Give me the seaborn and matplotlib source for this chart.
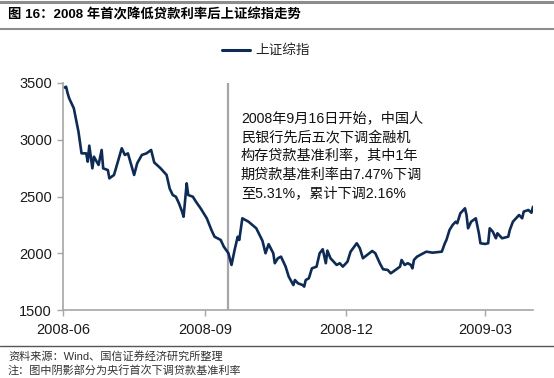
import matplotlib
matplotlib.use("Agg")
import matplotlib.pyplot as plt
import matplotlib.dates as mdates
from matplotlib.lines import Line2D
import seaborn as sns
import pandas as pd

dates = [
    "2008-06-02", "2008-06-03", "2008-06-04", "2008-06-05", "2008-06-08", "2008-06-11",
    "2008-06-13", "2008-06-16", "2008-06-17", "2008-06-18", "2008-06-20", "2008-06-21",
    "2008-06-24", "2008-06-26", "2008-06-27", "2008-06-30", "2008-07-01", "2008-07-04",
    "2008-07-09", "2008-07-11", "2008-07-13", "2008-07-17", "2008-07-19", "2008-07-22",
    "2008-07-25", "2008-07-28", "2008-07-30", "2008-08-03", "2008-08-07", "2008-08-09",
    "2008-08-11", "2008-08-13", "2008-08-15", "2008-08-17", "2008-08-18", "2008-08-20",
    "2008-08-21", "2008-08-24", "2008-08-26", "2008-08-29", "2008-09-02", "2008-09-05",
    "2008-09-07", "2008-09-11", "2008-09-13", "2008-09-16", "2008-09-18", "2008-09-20",
    "2008-09-22", "2008-09-23", "2008-09-25", "2008-09-29", "2008-10-04", "2008-10-08",
    "2008-10-10", "2008-10-12", "2008-10-15", "2008-10-16", "2008-10-18", "2008-10-20",
    "2008-10-23", "2008-10-25", "2008-10-28", "2008-10-29", "2008-10-31", "2008-11-03",
    "2008-11-04", "2008-11-05", "2008-11-07", "2008-11-09", "2008-11-12", "2008-11-14",
    "2008-11-16", "2008-11-18", "2008-11-19", "2008-11-21", "2008-11-25", "2008-11-27",
    "2008-11-29", "2008-12-02", "2008-12-04", "2008-12-08", "2008-12-10", "2008-12-12",
    "2008-12-18", "2008-12-20", "2008-12-23", "2008-12-25", "2008-12-28", "2008-12-30",
    "2009-01-02", "2009-01-05", "2009-01-06", "2009-01-08", "2009-01-10", "2009-01-12",
    "2009-01-13", "2009-01-14", "2009-01-16", "2009-01-20", "2009-01-22", "2009-01-26",
    "2009-02-01", "2009-02-03", "2009-02-04", "2009-02-06", "2009-02-08", "2009-02-10",
    "2009-02-11", "2009-02-13", "2009-02-16", "2009-02-17", "2009-02-18", "2009-02-20",
    "2009-02-23", "2009-02-25", "2009-02-26", "2009-03-01", "2009-03-03", "2009-03-04",
    "2009-03-06", "2009-03-08", "2009-03-09", "2009-03-12", "2009-03-16", "2009-03-17",
    "2009-03-19", "2009-03-21", "2009-03-23", "2009-03-25", "2009-03-26", "2009-03-29",
    "2009-03-31", "2009-04-01",
]
sh_index = [
    3460, 3467, 3409, 3365, 3277, 3071,
    2880, 2880, 2807, 2948, 2748, 2851,
    2778, 2910, 2748, 2733, 2660, 2690,
    2925, 2866, 2880, 2690, 2793, 2866,
    2880, 2910, 2800, 2750, 2690, 2570,
    2513, 2498, 2440, 2367, 2322, 2616,
    2513, 2498, 2454, 2396, 2308, 2205,
    2146, 2117, 2058, 2000, 1897, 2029,
    2146, 2117, 2308, 2278, 2220, 2110,
    2000, 2080, 2000, 1912, 1956, 1970,
    1882, 1794, 1720, 1764, 1735, 1720,
    1706, 1764, 1779, 1867, 1882, 2000,
    2035, 1912, 2023, 1956, 1897, 1912,
    1882, 1926, 2014, 2088, 2044, 1956,
    2020, 2000, 1910, 1859, 1853, 1823,
    1853, 1882, 1941, 1897, 1912, 1897,
    1867, 1941, 1970, 2000, 2014, 2005,
    2014, 2088, 2117, 2205, 2249, 2278,
    2264, 2352, 2396, 2337, 2220, 2278,
    2308, 2176, 2088, 2082, 2088, 2220,
    2190, 2132, 2176, 2132, 2146, 2205,
    2278, 2308, 2337, 2308, 2367, 2381,
    2357, 2410,
]
series_name = "上证综指"
cut_date = "2008-09-16"
x_ticks = ["2008-06-01", "2008-09-01", "2008-12-01", "2009-03-01"]
y_ticks = [1500, 2000, 2500, 3000, 3500]
title = "图 16：2008 年首次降低贷款利率后上证综指走势"
note_text = ("2008年9月16日开始，中国人\n民银行先后五次下调金融机\n构存贷款基准利率，其中1年\n"
             "期贷款基准利率由7.47%下调\n至5.31%，累计下调2.16%")
source_text = "资料来源：Wind、国信证券经济研究所整理"
footnote_text = "注：图中阴影部分为央行首次下调贷款基准利率"

sns.set_style("ticks")
plt.rcParams["font.family"] = ["Liberation Sans", "Noto Sans CJK SC", "DejaVu Sans"]

df = pd.DataFrame({"date": pd.to_datetime(dates), "value": sh_index, "series": series_name})

W, H = 554, 378
fig = plt.figure(figsize=(W / 100, H / 100), dpi=100)
ax = fig.add_axes([63 / W, 1 - 310 / H, (533 - 63) / W, (310 - 83) / H])

line_color = "#0D2B54"
sns.lineplot(data=df, x="date", y="value", hue="series", palette=[line_color],
             linewidth=1.9, ax=ax, legend=False)

ax.axvline(pd.Timestamp(cut_date), color="#A6A6A6", linewidth=1.6, zorder=1)

ax.set_xlim(pd.Timestamp("2008-06-01"), pd.Timestamp("2009-04-01"))
ax.set_ylim(1500, 3500)
ax.set_yticks(y_ticks)
ax.set_xticks(pd.to_datetime(x_ticks))
ax.xaxis.set_major_formatter(mdates.DateFormatter("%Y-%m"))
ax.set_xlabel("")
ax.set_ylabel("")
for s in ["top", "right"]:
    ax.spines[s].set_visible(False)
for s in ["left", "bottom"]:
    ax.spines[s].set_color("#A6A6A6")
    ax.spines[s].set_linewidth(1.2)
ax.tick_params(axis="both", colors="#A6A6A6", labelcolor="#1a1a1a", labelsize=10.5,
               length=4, width=1.0, direction="out")
ax.tick_params(axis="x", pad=5)
ax.tick_params(axis="y", pad=4)

ax.text(pd.Timestamp("2008-09-24"), 3250, note_text, fontsize=10.2, color="#111111",
        va="top", ha="left", linespacing=1.42)

# legend
fig.add_artist(Line2D([222 / W, 250 / W], [1 - 50 / H, 1 - 50 / H], color=line_color, linewidth=2.2))
fig.text(255 / W, 1 - 50 / H, series_name, fontsize=9.8, color="#222222", va="center", ha="left")

# title and rules
fig.add_artist(Line2D([0, 1], [1 - 2 / H, 1 - 2 / H], color="#8C8C8C", linewidth=2.2))
fig.text(8 / W, 1 - 15 / H, title, fontsize=9.6, fontweight="bold", color="#000000",
         va="center", ha="left")
fig.add_artist(Line2D([0, 1], [1 - 29 / H, 1 - 29 / H], color="#8C8C8C", linewidth=1.5))
fig.add_artist(Line2D([0, 1], [1 - 346 / H, 1 - 346 / H], color="#555555", linewidth=1.0))
fig.text(8 / W, 1 - 356 / H, source_text, fontsize=8.0, color="#333333", va="center", ha="left")
fig.text(8 / W, 1 - 370 / H, footnote_text, fontsize=8.0, color="#333333", va="center", ha="left")

fig.savefig("out.png", dpi=100)
